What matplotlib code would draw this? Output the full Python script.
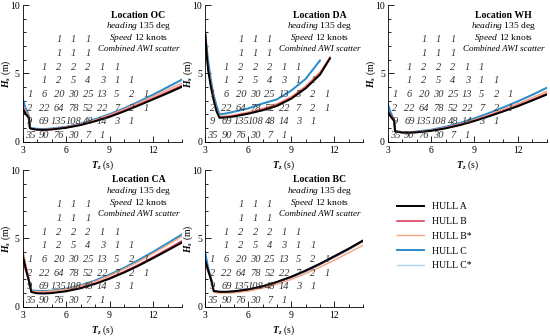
import numpy as np
import matplotlib
matplotlib.use("Agg")
import matplotlib.pyplot as plt
from matplotlib.ticker import MultipleLocator

plt.rcParams["font.family"] = ["Liberation Serif", "DejaVu Serif"]
plt.rcParams["mathtext.fontset"] = "custom"
plt.rcParams["mathtext.rm"] = "Liberation Serif"
plt.rcParams["mathtext.it"] = "Liberation Serif:italic"
plt.rcParams["mathtext.bf"] = "Liberation Serif:bold:italic"

# --- data ---
hulls = ["HULL A", "HULL B", "HULL B*", "HULL C", "HULL C*"]
hull_colors = ["#000000", "#d9304e", "#f6a57c", "#2f8ccc", "#a9d6ee"]
hull_widths = [1.4, 1.1, 1.0, 1.4, 1.0]
draw_order = [4, 3, 2, 1, 0]

# wave period grid (s)
tz = [3.0, 3.2, 3.45, 3.5, 3.6, 4.0, 4.5, 5, 6, 7, 8, 9, 10, 11, 12, 13, 14]
tz_da = [3.0, 3.1, 3.2, 3.4, 3.6, 3.8, 4.0, 4.5, 5, 6, 7, 8, 9, 10, 11, 11.7]

# limiting Hs (m) per location and hull
hs_oc = {
    "HULL A": [2.4, 2.05, 1.72, 1.0, 0.95, 0.88, 0.87, 0.9, 1.02, 1.22, 1.5, 1.82, 2.22, 2.65, 3.1, 3.55, 4.02],
    "HULL B": [2.6, 2.15, 1.78, 1.02, 0.96, 0.89, 0.88, 0.91, 1.04, 1.25, 1.54, 1.88, 2.28, 2.72, 3.18, 3.64, 4.12],
    "HULL B*": [2.75, 2.25, 1.82, 1.03, 0.97, 0.9, 0.9, 0.94, 1.07, 1.29, 1.6, 1.96, 2.38, 2.84, 3.32, 3.8, 4.3],
    "HULL C": [3.2, 2.5, 1.85, 1.06, 1.0, 0.95, 0.93, 0.97, 1.1, 1.33, 1.65, 2.02, 2.45, 2.93, 3.45, 4.0, 4.56],
    "HULL C*": [3.1, 2.45, 1.83, 1.05, 0.99, 0.94, 0.92, 0.96, 1.09, 1.31, 1.63, 1.99, 2.42, 2.9, 3.41, 3.95, 4.5],
}
hs_da = {
    "HULL A": [8.0, 6.5, 5.3, 4.0, 3.0, 2.2, 1.75, 1.78, 1.85, 2.05, 2.3, 2.62, 3.15, 3.9, 4.9, 6.1],
    "HULL B": [8.0, 6.6, 5.4, 4.1, 3.05, 2.25, 1.8, 1.83, 1.9, 2.1, 2.36, 2.7, 3.22, 3.98, 5.0, 6.15],
    "HULL B*": [8.0, 6.7, 5.5, 4.15, 3.1, 2.3, 1.85, 1.88, 1.96, 2.17, 2.44, 2.78, 3.3, 4.08, 5.1, 6.2],
    "HULL C": [8.0, 7.0, 6.0, 4.5, 3.4, 2.6, 2.0, 2.08, 2.2, 2.44, 2.8, 3.1, 3.75, 4.6, 5.95, np.nan],
    "HULL C*": [8.0, 6.9, 5.9, 4.4, 3.35, 2.55, 2.05, 2.06, 2.18, 2.42, 2.77, 3.08, 3.72, 4.56, 5.9, np.nan],
}
hs_wh = {
    "HULL A": [2.2, 1.85, 1.5, 0.78, 0.74, 0.67, 0.66, 0.69, 0.8, 0.98, 1.22, 1.52, 1.86, 2.22, 2.6, 3.02, 3.45],
    "HULL B": [2.3, 1.95, 1.55, 0.79, 0.75, 0.68, 0.67, 0.7, 0.82, 1.0, 1.25, 1.55, 1.9, 2.27, 2.66, 3.08, 3.53],
    "HULL B*": [2.25, 1.9, 1.52, 0.8, 0.76, 0.69, 0.68, 0.72, 0.84, 1.04, 1.3, 1.62, 1.98, 2.37, 2.78, 3.22, 3.7],
    "HULL C": [2.8, 2.15, 1.58, 0.82, 0.78, 0.71, 0.7, 0.75, 0.88, 1.1, 1.38, 1.72, 2.1, 2.52, 2.96, 3.44, 3.95],
    "HULL C*": [2.7, 2.1, 1.56, 0.81, 0.77, 0.7, 0.69, 0.74, 0.87, 1.08, 1.36, 1.69, 2.07, 2.48, 2.92, 3.39, 3.9],
}
hs_ca = {
    "HULL A": [3.8, 2.9, 1.85, 1.6, 1.08, 0.98, 0.97, 1.0, 1.13, 1.35, 1.67, 2.05, 2.5, 3.0, 3.55, 4.12, 4.7],
    "HULL B": [3.6, 2.7, 1.8, 1.58, 1.09, 1.0, 0.99, 1.02, 1.16, 1.39, 1.72, 2.11, 2.57, 3.08, 3.64, 4.22, 4.82],
    "HULL B*": [4.4, 3.2, 2.0, 1.7, 1.15, 1.12, 1.11, 1.14, 1.28, 1.52, 1.86, 2.27, 2.76, 3.3, 3.9, 4.52, 5.15],
    "HULL C": [4.0, 3.0, 1.9, 1.65, 1.2, 1.17, 1.15, 1.18, 1.32, 1.57, 1.92, 2.35, 2.85, 3.42, 4.02, 4.65, 5.3],
    "HULL C*": [3.95, 2.95, 1.88, 1.63, 1.19, 1.16, 1.14, 1.17, 1.31, 1.56, 1.9, 2.33, 2.83, 3.39, 3.98, 4.6, 5.25],
}
hs_bc = {
    "HULL A": [3.4, 2.7, 1.85, 1.6, 1.15, 1.1, 1.1, 1.13, 1.27, 1.5, 1.82, 2.2, 2.65, 3.15, 3.7, 4.25, 4.85],
    "HULL B": [3.3, 2.65, 1.82, 1.58, 1.14, 1.09, 1.09, 1.12, 1.26, 1.48, 1.8, 2.17, 2.62, 3.12, 3.66, 4.22, 4.8],
    "HULL B*": [3.2, 2.55, 1.75, 1.5, 1.05, 1.0, 1.0, 1.02, 1.14, 1.36, 1.65, 2.0, 2.42, 2.9, 3.4, 3.95, 4.5],
    "HULL C": [4.0, 2.9, 1.9, 1.62, 1.13, 1.09, 1.08, 1.11, 1.25, 1.47, 1.79, 2.16, 2.6, 3.1, 3.64, 4.2, 4.8],
    "HULL C*": [3.9, 2.85, 1.88, 1.6, 1.12, 1.08, 1.07, 1.1, 1.24, 1.46, 1.78, 2.15, 2.59, 3.09, 3.63, 4.18, 4.78],
}

# combined AWI scatter table (counts), bins centred on these values
scatter_tz = [3.5, 4.5, 5.5, 6.5, 7.5, 8.5, 9.5, 10.5, 11.5]
scatter_hs = [0.5, 1.5, 2.5, 3.5, 4.5, 5.5, 6.5, 7.5]
scatter_counts = [
    [35, 90, 76, 30, 7, 1, 0, 0, 0],
    [9, 69, 135, 108, 48, 14, 3, 1, 0],
    [2, 22, 64, 78, 52, 22, 7, 2, 1],
    [1, 6, 20, 30, 25, 13, 5, 2, 1],
    [0, 1, 2, 5, 4, 3, 1, 1, 0],
    [0, 1, 2, 2, 2, 1, 1, 0, 0],
    [0, 0, 1, 1, 1, 0, 0, 0, 0],
    [0, 0, 1, 1, 1, 0, 0, 0, 0],
]

panels = [
    ("OC", tz, hs_oc),
    ("DA", tz_da, hs_da),
    ("WH", tz, hs_wh),
    ("CA", tz, hs_ca),
    ("BC", tz, hs_bc),
]
axes_pos = [
    [0.041, 0.578, 0.29, 0.407],
    [0.373, 0.578, 0.287, 0.407],
    [0.705, 0.578, 0.289, 0.407],
    [0.041, 0.087, 0.29, 0.407],
    [0.373, 0.087, 0.287, 0.407],
]

fig = plt.figure(figsize=(5.5, 3.36), dpi=100)

line_handles = []
for (loc, x, curves), pos in zip(panels, axes_pos):
    ax = fig.add_axes(pos)

    # scatter table
    for i, hs_bin in enumerate(scatter_hs):
        for j, tz_bin in enumerate(scatter_tz):
            n = scatter_counts[i][j]
            if n > 0:
                ax.text(tz_bin, hs_bin - 0.05, str(n), ha="center", va="center",
                        fontsize=7.5, fontstyle="italic", color="#333333")

    # operability limit curves
    handles = {}
    for k in draw_order:
        name = hulls[k]
        h, = ax.plot(x, curves[name], color=hull_colors[k], lw=hull_widths[k],
                     label=name)
        handles[name] = h
    if not line_handles:
        line_handles = [handles[n] for n in hulls]

    # annotations
    ax.text(11.0, 9.27, "Location " + loc, ha="center", va="center",
            fontsize=7, fontweight="bold")
    ax.text(11.0, 8.45, r"$\mathit{heading}$ 135 deg", ha="center", va="center", fontsize=6.8)
    ax.text(11.0, 7.6, r"$\mathit{Speed}$ 12 knots", ha="center", va="center", fontsize=6.8)
    ax.text(11.0, 6.75, "Combined AWI scatter", ha="center", va="center",
            fontsize=6.5, fontstyle="italic")

    ax.set_xlim(3, 14)
    ax.set_ylim(0, 10)
    ax.xaxis.set_major_locator(MultipleLocator(3))
    ax.xaxis.set_minor_locator(MultipleLocator(1))
    ax.yaxis.set_major_locator(MultipleLocator(5))
    ax.yaxis.set_minor_locator(MultipleLocator(1))
    ax.tick_params(which="both", direction="in", labelsize=7)
    ax.tick_params(axis="y", pad=2)
    ax.tick_params(axis="x", pad=3)
    ax.tick_params(which="major", length=4, width=0.6)
    ax.tick_params(which="minor", length=2.5, width=0.6)
    for s in ["top", "right"]:
        ax.spines[s].set_visible(False)
    for s in ["left", "bottom"]:
        ax.spines[s].set_linewidth(0.6)
    ax.set_xlabel(r"$\mathbf{T_z}$ (s)", fontsize=7)
    ax.set_ylabel(r"$\mathbf{H_s}$ (m)", fontsize=7)
    ax.xaxis.set_label_coords(0.5, -0.12)
    ax.yaxis.set_label_coords(-0.062, 0.5)

fig.legend(line_handles, hulls, loc="upper left", bbox_to_anchor=(0.715, 0.41),
           frameon=False, fontsize=7, handlelength=2.8, labelspacing=0.6,
           handletextpad=0.8, borderaxespad=0)

fig.savefig("out.png", dpi=100)
